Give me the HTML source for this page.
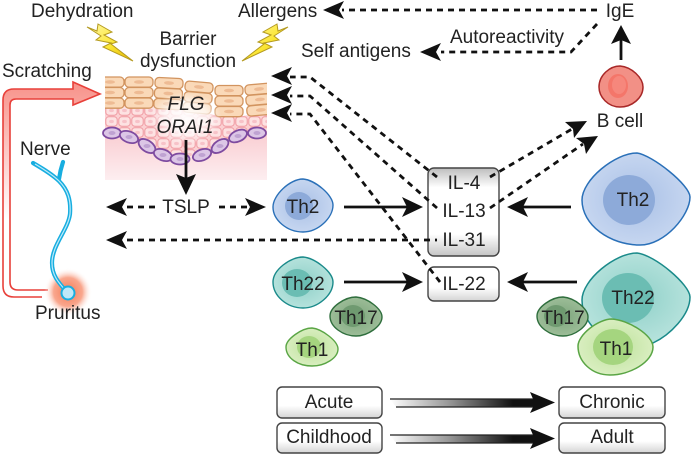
<!DOCTYPE html>
<html><head><meta charset="utf-8"><style>
html,body{margin:0;padding:0;background:#fff}
svg{display:block;filter:blur(.35px)}
text{font-family:"Liberation Sans",sans-serif;font-size:19px;fill:#222}
.m{text-anchor:middle}
.d{fill:none;stroke:#111;stroke-width:2.8;stroke-dasharray:6 5}
.s{fill:none;stroke:#111;stroke-width:2.8}
.h{fill:#111}
.c{fill:#fad9b8;stroke:#d2945f;stroke-width:1.3}
.n{fill:#eebb94}
.b{fill:#dcc6e6;stroke:#7e4ba0;stroke-width:1.8}
.bn{fill:#bfa2d2}
.box{stroke:#444;stroke-width:1.4}
</style></head><body>
<svg width="692" height="456" viewBox="0 0 692 456" xmlns="http://www.w3.org/2000/svg">
<defs>
<linearGradient id="skin" x1="0" y1="0" x2="0" y2="1"><stop offset="0" stop-color="#f9c8cd"/><stop offset="1" stop-color="#fdeef0"/></linearGradient>
<linearGradient id="red" gradientUnits="userSpaceOnUse" x1="0" y1="85" x2="0" y2="220"><stop offset="0" stop-color="#f8948c"/><stop offset="1" stop-color="#fff"/></linearGradient>
<linearGradient id="bolt" x1="0" y1="0" x2="1" y2="1"><stop offset="0" stop-color="#fff8a8"/><stop offset=".55" stop-color="#fbe634"/><stop offset="1" stop-color="#e3b400"/></linearGradient>
<linearGradient id="btn" x1="0" y1="0" x2="0" y2="1"><stop offset="0" stop-color="#fff"/><stop offset=".6" stop-color="#fff"/><stop offset="1" stop-color="#d4d4d4"/></linearGradient>
<linearGradient id="il" x1="0" y1="0" x2="0" y2="1"><stop offset="0" stop-color="#bdbdbd"/><stop offset=".22" stop-color="#fff"/><stop offset=".75" stop-color="#fff"/><stop offset="1" stop-color="#c4c4c4"/></linearGradient>
<linearGradient id="grad" gradientUnits="userSpaceOnUse" x1="390" y1="0" x2="535" y2="0"><stop offset="0" stop-color="#fff"/><stop offset=".4" stop-color="#999"/><stop offset=".85" stop-color="#111"/><stop offset="1" stop-color="#111"/></linearGradient>
<radialGradient id="glow"><stop offset="0" stop-color="#f47a55"/><stop offset=".6" stop-color="#f9a78e"/><stop offset="1" stop-color="#fff" stop-opacity="0"/></radialGradient>
<radialGradient id="white"><stop offset="0" stop-color="#fff" stop-opacity=".95"/><stop offset=".6" stop-color="#fff" stop-opacity=".7"/><stop offset="1" stop-color="#fff" stop-opacity="0"/></radialGradient>
<radialGradient id="blue"><stop offset="0" stop-color="#a9c0e6"/><stop offset="1" stop-color="#c6d6f0"/></radialGradient>
<radialGradient id="teal"><stop offset="0" stop-color="#8fd0c8"/><stop offset="1" stop-color="#b5e2dc"/></radialGradient>
<radialGradient id="lime"><stop offset="0" stop-color="#bde29b"/><stop offset="1" stop-color="#d9eec0"/></radialGradient>
<radialGradient id="dg"><stop offset="0" stop-color="#7da67d"/><stop offset="1" stop-color="#9dbd98"/></radialGradient>
<pattern id="sp" width="13" height="11" patternUnits="userSpaceOnUse" x="105" y="105">
<rect width="13" height="11" fill="#fbd0d2"/>
<rect x=".8" y=".8" width="11.4" height="9.4" rx="3" fill="#fde2e2" stroke="#f09aa2" stroke-width="1"/>
<ellipse cx="6.5" cy="5.5" rx="2.4" ry="1.6" fill="#f7c2c8"/>
</pattern>
<clipPath id="sk"><rect x="105" y="70" width="162" height="110"/></clipPath>
<g id="cell"><rect x="-14" y="-5" width="28" height="10.2" rx="4" class="c"/><ellipse rx="5" ry="1.8" class="n"/></g>
<g id="col"><use href="#cell"/><use href="#cell" y="10.5"/><use href="#cell" y="21"/></g>
</defs>

<!-- skin -->
<rect x="105" y="125" width="162" height="55" fill="url(#skin)"/>
<path d="M105 100L155 105L185 110L215 115L243 116L267 112V133L238 136L220 146L202 155L180 159L163 155L147 146L129 137L105 133Z" fill="url(#sp)"/>
<g clip-path="url(#sk)">
<use href="#col" x="110" y="82"/>
<use href="#col" x="139" y="82"/>
<use href="#col" transform="translate(169 83) rotate(3)"/>
<use href="#col" transform="translate(199 87) rotate(5)"/>
<use href="#col" x="229" y="90.5"/>
<use href="#col" transform="translate(259 89) rotate(-5)"/>
</g>
<g>
<ellipse cx="112" cy="133" rx="9" ry="5.5" class="b"/><ellipse cx="112" cy="133" rx="3.5" ry="2" class="bn"/>
<ellipse cx="129" cy="137" rx="9.5" ry="5.5" class="b" transform="rotate(20 129 137)"/><ellipse cx="129" cy="137" rx="3.5" ry="2" class="bn"/>
<ellipse cx="147" cy="146" rx="9.5" ry="5.5" class="b" transform="rotate(35 147 146)"/><ellipse cx="147" cy="146" rx="3.5" ry="2" class="bn"/>
<ellipse cx="163" cy="155" rx="9.5" ry="5.5" class="b" transform="rotate(20 163 155)"/><ellipse cx="163" cy="155" rx="3.5" ry="2" class="bn"/>
<ellipse cx="180" cy="159" rx="9.5" ry="5.5" class="b"/><ellipse cx="180" cy="159" rx="3.5" ry="2" class="bn"/>
<ellipse cx="202" cy="155" rx="9.5" ry="5.5" class="b" transform="rotate(-20 202 155)"/><ellipse cx="202" cy="155" rx="3.5" ry="2" class="bn"/>
<ellipse cx="220" cy="146" rx="9.5" ry="5.5" class="b" transform="rotate(-35 220 146)"/><ellipse cx="220" cy="146" rx="3.5" ry="2" class="bn"/>
<ellipse cx="238" cy="136" rx="9.5" ry="5.5" class="b" transform="rotate(-25 238 136)"/><ellipse cx="238" cy="136" rx="3.5" ry="2" class="bn"/>
<ellipse cx="257" cy="133" rx="9" ry="5.5" class="b"/><ellipse cx="257" cy="133" rx="3.5" ry="2" class="bn"/>
</g>
<ellipse cx="186" cy="118" rx="36" ry="26" fill="url(#white)"/>

<!-- bolts -->
<polygon points="87,27 97,31 98,24 112,32 104,35 117,42 111,44 133,61 103,47 111,43 96,40 101,36" fill="url(#bolt)" stroke="#b49a20" stroke-width="1"/>
<polygon points="288,27 278,31 277,24 263,32 271,35 258,42 264,44 242,61 272,47 264,43 279,40 274,36" fill="url(#bolt)" stroke="#b49a20" stroke-width="1"/>

<!-- scratching -->
<path d="M42 297H14Q3 297 3 286V100Q3 89 14 89H73V82L100 94L73 105V99H16Q10 99 10 105V282Q10 290 18 290H48" fill="url(#red)" stroke="#e8403a" stroke-width="1.6"/>

<!-- nerve -->
<circle cx="68" cy="292" r="24" fill="url(#glow)"/>
<path d="M33 163C45 170 53 175 59 181C68 190 71 200 70 214C68 230 52 245 52 263C52 275 58 282 66 291M63 162C61 168 60 172 59 179" fill="none" stroke="#18aee0" stroke-width="4.2" stroke-linecap="round"/>
<path d="M35 164C45 170 53 175 59 181C68 190 71 200 70 214C68 230 52 245 52 263C52 275 58 282 66 291" fill="none" stroke="#bfeafa" stroke-width="1.2"/>
<circle cx="68" cy="293" r="6.5" fill="#bfe8f8" stroke="#18aee0" stroke-width="2"/>

<!-- boxes -->
<rect x="428" y="168" width="71" height="88" rx="6" fill="url(#il)" class="box"/>
<rect x="428" y="267" width="71" height="34" rx="6" fill="url(#btn)" class="box"/>
<rect x="277" y="387" width="105" height="31" rx="5" fill="url(#btn)" class="box"/>
<rect x="277" y="423" width="105" height="30" rx="5" fill="url(#btn)" class="box"/>
<rect x="559" y="387" width="106" height="31" rx="5" fill="url(#btn)" class="box"/>
<rect x="559" y="423" width="106" height="30" rx="5" fill="url(#btn)" class="box"/>

<!-- dashed connectors -->
<path class="d" d="M597 10H342"/>
<path class="d" d="M597 24L571 52H441"/>
<path class="d" d="M127 207H157"/>
<path class="d" d="M219 207H248"/>
<path class="d" d="M127 240H437"/>
<path class="d" d="M437 177L310 77H290"/>
<path class="d" d="M437 208L310 96H290"/>
<path class="d" d="M440 282L310 114H290"/>
<path class="d" d="M490 177L572 129"/>
<path class="d" d="M490 208L583 144"/>

<!-- solid connectors -->
<path class="s" d="M186 140V178"/>
<path class="s" d="M344 207H408"/>
<path class="s" d="M571 207H522"/>
<path class="s" d="M344 282H408"/>
<path class="s" d="M577 282H522"/>
<path class="s" d="M621 60V38"/>

<!-- arrowheads -->
<g class="h">
<polygon points="323,10 344,1 339,10 344,19"/>
<polygon points="420,52 441,43 436,52 441,61"/>
<polygon points="621,25 631,44 621,40 611,44"/>
<polygon points="186,195 176,174 186,178 196,174"/>
<polygon points="106,207 127,198 122,207 127,216"/>
<polygon points="266,207 245,198 250,207 245,216"/>
<polygon points="106,240 127,231 122,240 127,249"/>
<polygon points="271,76 292,67 287,76 292,85"/>
<polygon points="271,95 292,86 287,95 292,104"/>
<polygon points="271,113 292,104 287,113 292,122"/>
<polygon points="423,207 402,197 407,207 402,217"/>
<polygon points="507,207 528,197 523,207 528,217"/>
<polygon points="423,282 402,272 407,282 402,292"/>
<polygon points="507,282 528,272 523,282 528,292"/>
<polygon points="587,121 565,122 573,129 574,138"/>
<polygon points="598,136 576,138 584,144 586,154"/>
</g>

<!-- cells -->
<path d="M637 153C652 155 690 185 690 197C690 215 665 245 640 245C610 245 582 225 582 200C582 180 615 153 637 153Z" fill="url(#blue)" stroke="#2a70b8" stroke-width="1.5"/>
<ellipse cx="629" cy="200" rx="26" ry="25" fill="#8daad9"/>
<path d="M303 179C315 180 333 195 333 205C333 218 318 232 303 232C287 232 273 220 273 207C273 195 290 179 303 179Z" fill="url(#blue)" stroke="#2a70b8" stroke-width="1.4"/>
<ellipse cx="299" cy="206" rx="14" ry="14" fill="#8daad9"/>
<path d="M637 253C655 255 690 285 690 297C690 315 670 335 653 343L600 335C590 325 582 315 582 300C582 280 615 253 637 253Z" fill="url(#teal)" stroke="#1a8a8a" stroke-width="1.5"/>
<ellipse cx="628" cy="298" rx="26" ry="25" fill="#6bbdb3"/>
<path d="M303 257C315 258 333 272 333 282C333 295 318 308 303 308C287 308 273 296 273 282C273 270 290 257 303 257Z" fill="url(#teal)" stroke="#1a8a8a" stroke-width="1.4"/>
<ellipse cx="297" cy="283" rx="15" ry="14" fill="#6bbdb3"/>
<path d="M356 297C368 298 382 309 382 317C382 326 368 336 356 336C343 336 330 327 330 316C330 307 345 297 356 297Z" fill="url(#dg)" stroke="#2f6e3d" stroke-width="1.4"/>
<ellipse cx="353" cy="316" rx="12" ry="11" fill="#6f9a70"/>
<path d="M563 297C575 298 588 309 588 317C588 326 575 336 563 336C550 336 537 327 537 316C537 307 552 297 563 297Z" fill="url(#dg)" stroke="#2f6e3d" stroke-width="1.4"/>
<ellipse cx="556" cy="316" rx="12" ry="11" fill="#6f9a70"/>
<path d="M312 328C322 329 338 341 338 349C338 358 325 366 312 366C298 366 286 358 286 347C286 339 302 328 312 328Z" fill="url(#lime)" stroke="#5aa545" stroke-width="1.4"/>
<ellipse cx="309" cy="347" rx="12" ry="11" fill="#a5d57f"/>
<path d="M612 319C628 320 653 335 653 347C653 362 630 375 610 375C592 375 578 362 578 346C578 335 598 319 612 319Z" fill="url(#lime)" stroke="#5aa545" stroke-width="1.5"/>
<ellipse cx="613" cy="347" rx="20" ry="18" fill="#a5d57f"/>
<path d="M620 66C632 67 643 78 643 87C643 98 632 107 620 107C608 107 599 97 599 87C599 75 610 66 620 66Z" fill="#f29086" stroke="#a82828" stroke-width="1.5"/>
<ellipse cx="618" cy="86" rx="10" ry="12" fill="#f4766a"/>
<ellipse cx="619" cy="85" rx="7" ry="9" fill="#f6877c"/>

<!-- gradient arrows -->
<path d="M396 407H396L390 399H533L530 392L555 402.5L530 413L533 407Z" fill="url(#grad)"/>
<path d="M390 399H533M396 407H533" fill="none" stroke="#222" stroke-width="1.3"/>
<g transform="translate(0 36)">
<path d="M396 407H396L390 399H533L530 392L555 402.5L530 413L533 407Z" fill="url(#grad)"/>
<path d="M390 399H533M396 407H533" fill="none" stroke="#222" stroke-width="1.3"/>
</g>

<!-- labels -->
<text x="31" y="17">Dehydration</text>
<text x="238" y="17">Allergens</text>
<text x="188" y="45" class="m">Barrier</text>
<text x="188" y="67" class="m">dysfunction</text>
<text x="2" y="77">Scratching</text>
<text x="186" y="110" class="m" font-style="italic">FLG</text>
<text x="185" y="133" class="m" font-style="italic">ORAI1</text>
<text x="20" y="155">Nerve</text>
<text x="186" y="213" class="m">TSLP</text>
<text x="35" y="319">Pruritus</text>
<text x="620" y="17" class="m">IgE</text>
<text x="507" y="43" class="m">Autoreactivity</text>
<text x="301" y="57">Self antigens</text>
<text x="620" y="127" class="m">B cell</text>
<text x="464" y="189" class="m">IL-4</text>
<text x="464" y="217" class="m">IL-13</text>
<text x="464" y="246" class="m">IL-31</text>
<text x="464" y="290" class="m">IL-22</text>
<text x="303" y="213" class="m">Th2</text>
<text x="633" y="206" class="m">Th2</text>
<text x="303" y="290" class="m">Th22</text>
<text x="356" y="324" class="m">Th17</text>
<text x="312" y="356" class="m">Th1</text>
<text x="633" y="304" class="m">Th22</text>
<text x="563" y="324" class="m">Th17</text>
<text x="616" y="355" class="m">Th1</text>
<text x="329" y="408" class="m">Acute</text>
<text x="329" y="443" class="m">Childhood</text>
<text x="612" y="408" class="m">Chronic</text>
<text x="612" y="443" class="m">Adult</text>
</svg>
</body></html>
